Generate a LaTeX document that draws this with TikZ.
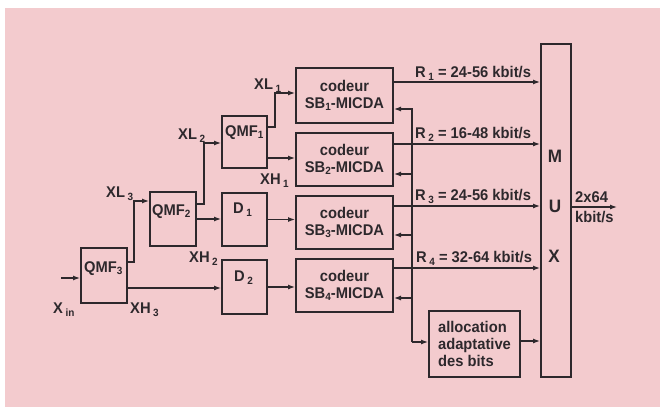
\documentclass[tikz,border=0pt]{standalone}
\usepackage{fontspec}
\setmainfont{Liberation Sans}[FakeStretch=0.95]
\usetikzlibrary{arrows.meta,calc}
\definecolor{bgpink}{RGB}{243,203,206}
\definecolor{ink}{RGB}{45,40,44}
\newcommand\lsub[1]{\,\raisebox{-0.4ex}{\fontsize{10.5}{10.5}\selectfont #1}}
\newcommand\tsub[1]{\raisebox{-0.3ex}{\fontsize{10.5}{10.5}\selectfont #1}}
\begin{document}
\begin{tikzpicture}[x=1pt,y=-1pt,
  box/.style={draw=ink,line width=2pt,inner sep=0pt},
  txt/.style={text=ink,font=\bfseries\fontsize{15.5}{17}\selectfont,inner sep=0pt},
  big/.style={text=ink,font=\bfseries\fontsize{18}{18}\selectfont,inner sep=0pt},
  conn/.style={draw=ink,line width=1.2pt,-{Latex[length=7pt,width=5pt]}},
  wire/.style={draw=ink,line width=1.2pt}]
\useasboundingbox (0,0) rectangle (660,407);
\fill[bgpink] (5,8) rectangle (660,407);

% boxes
\node[box,minimum width=46pt,minimum height=55pt] (qmf3) at (104,275.5) {};
\node[box,minimum width=46pt,minimum height=54pt] (qmf2) at (173,219) {};
\node[box,minimum width=45pt,minimum height=52pt] (qmf1) at (244.5,142) {};
\node[box,minimum width=45pt,minimum height=53pt] (d1) at (244.5,219.5) {};
\node[box,minimum width=45pt,minimum height=54pt] (d2) at (244.5,287) {};
\node[box,txt,align=center,minimum width=97pt,minimum height=55pt] (c1) at (344.5,95.5) {codeur\\SB\tsub{1}-MICDA};
\node[box,txt,align=center,minimum width=97pt,minimum height=53pt] (c2) at (344.5,159.5) {codeur\\SB\tsub{2}-MICDA};
\node[box,txt,align=center,minimum width=97pt,minimum height=53pt] (c3) at (344.5,222.5) {codeur\\SB\tsub{3}-MICDA};
\node[box,txt,align=center,minimum width=97pt,minimum height=53pt] (c4) at (344.5,285.5) {codeur\\SB\tsub{4}-MICDA};
\node[box,minimum width=30pt,minimum height=333pt] (mux) at (556,210.5) {};
\node[box,txt,align=left,minimum width=91pt,minimum height=66pt] (alloc) at (474.5,344) {allocation\\adaptative\\des bits};

% box texts
\node[txt,anchor=base west] (tq3) at (84,272) {QMF\tsub{3}};
\node[txt,anchor=base west] (tq2) at (152,215) {QMF\tsub{2}};
\node[txt,anchor=base west] (tq1) at (225,136) {QMF\tsub{1}};
\node[txt,anchor=base west] (td1) at (233,213) {D\lsub{1}};
\node[txt,anchor=base west] (td2) at (234,281) {D\lsub{2}};
\node[big] (tm) at (555,156) {M};
\node[big] (tu) at (555,206.5) {U};
\node[big] (tx) at (554,256) {X};

% signal labels
\node[txt,anchor=base west] (lxin) at (53,313.5) {X\lsub{in}};
\node[txt,anchor=base west] (lxh3) at (130,313.5) {XH\lsub{3}};
\node[txt,anchor=base west] (lxl3) at (106,197) {XL\lsub{3}};
\node[txt,anchor=base west] (lxh2) at (189,262) {XH\lsub{2}};
\node[txt,anchor=base west] (lxl2) at (178,139) {XL\lsub{2}};
\node[txt,anchor=base west] (lxl1) at (254,89) {XL\lsub{1}};
\node[txt,anchor=base west] (lxh1) at (260,184) {XH\lsub{1}};
\node[txt,anchor=base west] (lr1) at (415,77) {R\lsub{1} = 24-56 kbit/s};
\node[txt,anchor=base west] (lr2) at (415,138.5) {R\lsub{2} = 16-48 kbit/s};
\node[txt,anchor=base west] (lr3) at (415,200.5) {R\lsub{3} = 24-56 kbit/s};
\node[txt,anchor=base west] (lr4) at (416,262.5) {R\lsub{4} = 32-64 kbit/s};
\node[txt,anchor=base west] (lout1) at (575,202) {2x64};
\node[txt,anchor=base west] (lout2) at (575,222) {kbit/s};

% connectors
\coordinate (xin) at (61,278);
\draw[conn] (xin) -- (xin -| qmf3.west);
\draw[conn] ($(qmf3.north east)+(0,15)$) -- ++(6,0) |- ($(qmf2.north west)+(0,10)$);
\draw[conn] ($(qmf3.south east)+(0,-16)$) coordinate (h3) -- (h3 -| d2.west);
\draw[conn] ($(qmf2.north east)+(0,13)$) -- ++(7,0) |- ($(qmf1.north west)+(0,28)$);
\draw[conn] (qmf2.east) -- (qmf2.east -| d1.west);
\draw[conn] ($(qmf1.north east)+(0,12)$) -- ++(7,0) |- ($(c1.north west)+(0,26)$);
\draw[conn] ($(qmf1.south east)+(0,-11)$) coordinate (h1) -- (h1 -| c2.west);
\draw[conn] (d1.east) -- (d1.east -| c3.west);
\draw[conn] (d2.east) -- (d2.east -| c4.west);

\draw[conn] ($(c1.north east)+(0,15)$) coordinate (r1) -- (r1 -| mux.west);
\draw[conn] ($(c2.north east)+(0,12)$) coordinate (r2) -- (r2 -| mux.west);
\draw[conn] ($(c3.north east)+(0,11)$) coordinate (r3) -- (r3 -| mux.west);
\draw[conn] ($(c4.north east)+(0,10)$) coordinate (r4) -- (r4 -| mux.west);

\coordinate (fbtop) at (412,109);
\coordinate (fb2) at (412,174);
\coordinate (fb3) at (412,235);
\coordinate (fb4) at (412,298);
\coordinate (fbbot) at (412,342);
\draw[conn] (fbbot) -- (fbtop) -- (fbtop -| c1.east);
\draw[conn] (fb2) -- (fb2 -| c2.east);
\draw[conn] (fb3) -- (fb3 -| c3.east);
\draw[conn] (fb4) -- (fb4 -| c4.east);
\draw[conn] (fbbot) -- (fbbot -| alloc.west);
\draw[conn] ($(alloc.east)+(0,-3)$) coordinate (ao) -- (ao -| mux.west);
\coordinate (out) at (617,207);
\draw[conn] (out -| mux.east) -- (out);
\end{tikzpicture}
\end{document}
